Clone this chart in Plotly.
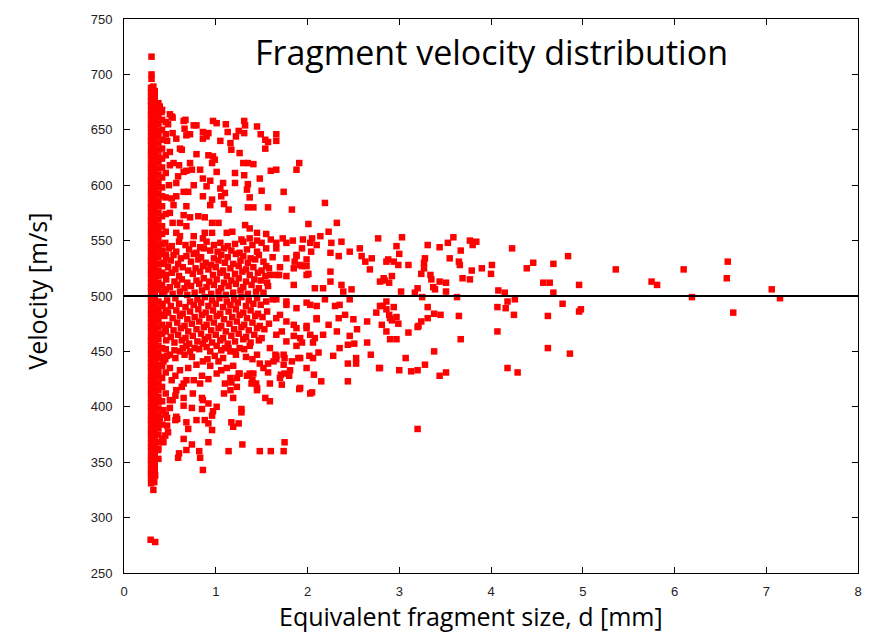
import plotly.graph_objects as go

# ---------------- data ----------------
# dense core of very small fragments (d ~ 0.3-0.45 mm): one list of velocities per size column
core_d = [0.295, 0.335, 0.375, 0.415, 0.455]
core_v = [
    [331, 336, 340, 343, 348, 352, 355, 360, 364, 367, 372, 376, 379, 384, 388, 391, 396, 400,
     403, 408, 412, 415, 420, 424, 427, 432, 436, 439, 444, 448, 451, 456, 460, 463, 468, 472,
     475, 480, 484, 487, 492, 496, 499, 504, 508, 511, 516, 520, 523, 528, 532, 535, 540, 544,
     547, 552, 556, 559, 564, 568, 571, 576, 580, 583, 588, 592, 595, 600, 604, 607, 612, 616,
     619, 624, 628, 631, 636, 640, 643, 648, 652, 655, 660, 664, 667, 672, 676, 679, 684, 688],
    [338, 343, 347, 352, 357, 361, 366, 370, 375, 379, 384, 388, 393, 397, 402, 406, 411, 415,
     420, 424, 429, 433, 438, 442, 447, 451, 456, 460, 465, 469, 474, 478, 483, 487, 492, 496,
     501, 505, 510, 514, 519, 523, 528, 532, 537, 541, 546, 550, 555, 559, 564, 568, 573, 577,
     582, 586, 591, 595, 600, 604, 609, 613, 618, 622, 627, 631, 636, 640, 645, 649, 654, 658,
     663, 667, 672, 676, 681, 685],
    [353, 362, 368, 375, 381, 386, 392, 398, 404, 409, 415, 421, 427, 432, 438, 444, 449, 455,
     461, 466, 472, 478, 484, 489, 495, 506, 512, 518, 523, 529, 535, 541, 546, 552, 558, 563,
     569, 575, 581, 586, 592, 598, 603, 609, 615, 621, 626, 632, 638, 644, 649, 655, 661, 667, 674],
    [371, 384, 396, 405, 418, 426, 437, 445, 453, 466, 474, 483, 491, 502, 510, 521, 529, 538,
     547, 556, 563, 572, 581, 590, 598, 607, 616, 624, 633, 641, 650, 659, 668],
    [393, 412, 431, 452, 468, 487, 506, 519, 537, 558, 574, 589, 611, 627, 646, 657],
]

# crowded band around the mean velocity (d ~ 0.4-1.6 mm): rows of sizes and their velocities
band_d = [
    [0.45, 0.52, 0.60, 0.67, 0.75, 0.83, 0.90, 0.98, 1.05, 1.13, 1.21, 1.30, 1.40, 1.50],
    [0.42, 0.49, 0.57, 0.71, 0.79, 0.87, 0.94, 1.02, 1.09, 1.17, 1.26, 1.34, 1.45, 1.55],
    [0.46, 0.54, 0.62, 0.68, 0.76, 0.84, 0.98, 1.06, 1.13, 1.22, 1.30, 1.38, 1.47, 1.62],
    [0.44, 0.51, 0.59, 0.73, 0.81, 0.89, 0.95, 1.03, 1.10, 1.19, 1.27, 1.35, 1.43, 1.52],
    [0.48, 0.56, 0.64, 0.70, 0.78, 0.86, 0.92, 1.00, 1.08, 1.16, 1.25, 1.33, 1.41, 1.50, 1.58],
    [0.43, 0.52, 0.60, 0.75, 0.83, 0.97, 1.05, 1.12, 1.21, 1.29, 1.37, 1.46, 1.54],
    [0.46, 0.55, 0.63, 0.69, 0.79, 0.87, 0.93, 1.01, 1.09, 1.17, 1.25, 1.33, 1.42, 1.49],
    [0.50, 0.58, 0.66, 0.73, 0.82, 0.90, 0.98, 1.06, 1.14, 1.22, 1.30, 1.39, 1.47, 1.57],
    [0.44, 0.53, 0.61, 0.69, 0.77, 0.85, 0.95, 1.03, 1.11, 1.19, 1.27, 1.35, 1.44, 1.52],
    [0.47, 0.56, 0.72, 0.80, 0.88, 0.96, 1.04, 1.12, 1.20, 1.28, 1.36, 1.45, 1.55, 1.62],
    [0.42, 0.51, 0.60, 0.67, 0.76, 0.84, 0.92, 1.00, 1.08, 1.16, 1.24, 1.33, 1.41, 1.49],
    [0.48, 0.57, 0.64, 0.72, 0.81, 0.89, 0.97, 1.05, 1.14, 1.22, 1.30, 1.38, 1.46, 1.56],
    [0.44, 0.53, 0.61, 0.69, 0.77, 0.85, 0.93, 1.01, 1.09, 1.18, 1.26, 1.34, 1.43, 1.51],
    [0.49, 0.58, 0.66, 0.74, 0.82, 0.90, 0.98, 1.06, 1.15, 1.23, 1.31, 1.40, 1.48, 1.58],
    [0.45, 0.54, 0.62, 0.70, 0.79, 0.87, 0.95, 1.03, 1.11, 1.20, 1.28, 1.36, 1.45, 1.53],
    [0.51, 0.59, 0.67, 0.75, 0.84, 0.92, 1.00, 1.08, 1.17, 1.25, 1.33, 1.42, 1.50],
    [0.46, 0.55, 0.63, 0.71, 0.80, 0.88, 0.96, 1.05, 1.13, 1.21, 1.30, 1.38, 1.47],
    [0.55, 0.64, 0.72, 0.82, 0.90, 1.06, 1.14, 1.21, 1.31],
    [0.47, 0.56, 0.66, 0.74, 0.91, 0.99, 1.08, 1.22, 1.33, 1.40],
]
band_v = [
    [548, 545, 549, 546, 547, 544, 549, 546, 548, 545, 547, 549, 546, 548],
    [541, 543, 540, 542, 539, 543, 541, 540, 543, 541, 539, 542, 540, 543],
    [535, 537, 534, 536, 538, 535, 534, 537, 535, 538, 536, 534, 537, 535],
    [530, 532, 529, 531, 533, 530, 528, 532, 530, 529, 532, 530, 533, 531],
    [526, 524, 526, 523, 525, 527, 524, 526, 523, 525, 527, 524, 526, 523, 525],
    [519, 521, 518, 520, 522, 519, 521, 518, 520, 522, 519, 521, 518],
    [515, 513, 515, 512, 514, 516, 513, 515, 512, 514, 516, 513, 515, 514],
    [508, 510, 507, 509, 511, 508, 510, 507, 509, 511, 508, 510, 507, 509],
    [504, 502, 504, 501, 503, 505, 502, 504, 501, 503, 505, 502, 504, 503],
    [496, 498, 495, 497, 499, 496, 498, 495, 497, 499, 496, 498, 495, 497],
    [493, 491, 493, 490, 492, 494, 491, 493, 490, 492, 494, 491, 493, 492],
    [485, 487, 484, 486, 488, 485, 487, 484, 486, 488, 485, 487, 484, 486],
    [482, 480, 482, 479, 481, 483, 480, 482, 479, 481, 483, 480, 482, 481],
    [474, 476, 473, 475, 477, 474, 476, 473, 475, 477, 474, 476, 473, 475],
    [471, 469, 471, 468, 470, 472, 469, 471, 468, 470, 472, 469, 471, 470],
    [463, 465, 462, 464, 466, 463, 465, 462, 464, 466, 463, 465, 462],
    [460, 458, 460, 457, 459, 461, 458, 460, 457, 459, 461, 458, 460],
    [451, 453, 450, 452, 454, 451, 453, 450, 452],
    [446, 444, 447, 445, 443, 446, 444, 447, 445, 443],
]

# isolated fragments above the band: (size d [mm], velocity [m/s])
upper_pts = [
    (0.30, 716), (0.30, 700), (0.30, 696), (0.32, 689), (0.39, 671), (0.41, 666), (0.50, 664),
    (0.52, 662), (0.53, 661), (0.65, 658), (0.67, 659), (0.76, 654), (0.79, 654), (0.97, 658),
    (1.01, 656), (1.11, 655), (1.31, 658), (1.32, 654), (1.45, 653), (1.66, 646), (1.66, 640),
    (1.49, 646), (1.54, 641), (1.57, 639), (1.54, 633), (0.66, 651), (0.68, 645), (0.72, 646),
    (0.86, 648), (0.86, 642), (0.90, 644), (0.92, 647), (1.05, 640), (1.13, 648), (1.16, 638),
    (1.22, 644), (1.25, 649), (1.31, 647), (1.17, 632), (1.26, 629), (0.53, 647), (0.57, 642),
    (0.61, 633), (0.63, 632), (0.79, 628), (0.92, 627), (0.97, 626), (0.99, 623), (0.96, 620),
    (0.50, 618), (0.54, 620), (0.60, 618), (0.72, 620), (0.65, 612), (0.68, 613), (0.74, 614),
    (0.83, 614), (0.59, 608), (0.57, 602), (1.01, 612), (1.30, 620), (1.35, 620), (1.41, 619),
    (1.21, 611), (1.31, 609), (1.48, 606), (1.60, 613), (1.66, 614), (1.88, 614), (1.91, 620),
    (0.86, 606), (0.94, 604), (0.90, 599), (0.76, 600), (0.70, 594), (0.65, 594), (1.08, 602),
    (1.05, 597), (1.10, 593), (1.21, 602), (1.35, 601), (1.34, 596), (1.50, 595), (1.74, 594),
    (1.37, 589), (0.86, 590), (0.96, 587), (0.94, 582), (1.06, 590), (1.09, 583), (1.14, 578),
    (0.57, 590), (0.54, 582), (0.68, 581), (1.35, 580), (1.41, 580), (1.57, 580), (1.83, 578),
    (2.19, 584), (0.65, 573), (0.72, 571), (0.81, 572), (0.88, 571), (0.68, 563), (0.61, 566),
    (0.96, 566), (1.03, 566), (0.96, 557), (0.88, 557), (1.12, 557), (1.18, 558), (1.32, 564),
    (1.37, 561), (1.45, 557), (1.55, 556), (2.01, 565), (2.32, 566), (2.23, 558), (2.14, 554),
    (2.77, 552), (0.57, 557), (0.61, 554), (0.76, 554), (0.86, 552), (1.28, 551), (1.37, 552),
    (1.45, 550), (1.60, 551), (1.73, 552), (1.84, 550), (1.95, 551), (2.05, 552), (0.48, 655),
    (0.47, 640), (0.50, 630), (0.49, 600), (0.52, 588), (0.50, 575), (0.53, 566),
]

# fragments on the right side of the band (d ~ 1.5-2.9 mm)
side_pts = [
    (1.66, 548), (1.77, 548), (1.94, 543), (2.03, 548), (2.26, 548), (2.37, 549), (2.25, 539),
    (2.34, 536), (2.46, 540), (2.57, 543), (2.59, 536), (2.63, 531), (2.68, 524), (2.70, 534),
    (1.88, 536), (1.86, 531), (1.92, 528), (1.99, 527), (2.01, 520), (2.25, 522), (2.25, 513),
    (2.37, 510), (2.48, 506), (2.39, 504), (2.17, 507), (2.08, 507), (1.85, 510), (1.77, 518),
    (1.66, 519), (1.70, 526), (1.56, 512), (1.59, 519), (2.86, 531), (2.83, 516), (2.79, 513),
    (1.66, 543), (1.77, 534), (1.88, 537), (1.99, 533), (1.85, 525), (1.94, 527), (1.99, 519),
    (1.69, 519), (1.55, 527), (2.10, 546), (2.04, 540),
    (1.66, 497), (1.77, 492), (1.88, 489), (1.99, 494), (2.10, 491), (2.19, 497), (2.30, 491),
    (2.35, 492), (2.46, 497), (2.41, 483), (2.50, 479), (2.65, 477), (2.75, 485), (2.81, 474),
    (2.54, 470), (2.34, 480), (2.23, 474), (2.10, 479), (1.99, 473), (1.88, 471), (1.77, 477),
    (1.66, 480), (1.72, 468), (1.85, 464), (2.03, 465), (2.17, 465), (2.32, 468), (2.46, 464),
    (2.79, 491), (2.90, 480), (1.77, 495), (2.03, 492), (2.10, 480), (1.70, 483), (1.85, 474),
    (1.99, 471), (2.08, 462), (1.92, 462), (1.77, 459), (1.66, 465),
]

# fragments below the band
lower_pts = [
    (1.28, 398), (1.28, 395), (1.17, 386), (1.25, 385), (1.19, 382), (1.54, 408), (1.59, 405),
    (1.75, 368), (1.74, 360), (1.48, 360), (1.60, 360), (1.14, 360), (1.29, 366), (0.92, 368),
    (0.82, 360), (0.83, 354), (0.86, 343), (0.74, 366), (0.65, 371), (0.68, 361), (0.60, 358),
    (0.59, 354), (0.96, 379), (0.92, 385), (0.88, 388), (0.96, 392), (0.97, 396), (1.01, 400),
    (0.79, 388), (0.70, 380), (0.68, 386), (0.56, 388), (0.47, 390), (0.57, 391), (0.65, 401),
    (0.74, 399), (0.85, 398), (0.86, 406), (0.92, 403), (0.50, 406), (0.56, 410), (0.65, 408),
    (0.75, 412), (0.85, 408), (1.19, 408), (1.16, 415), (1.09, 412), (1.23, 418), (1.45, 415),
    (1.44, 421), (1.40, 424), (1.37, 430), (1.57, 431), (1.72, 420), (1.71, 429), (1.75, 430),
    (1.80, 428), (1.91, 416), (2.03, 412), (2.07, 429), (2.15, 423), (2.44, 423), (2.44, 439),
    (2.53, 444), (2.53, 439), (2.69, 447), (2.78, 435), (2.28, 446), (2.35, 453), (2.44, 456),
    (2.51, 457), (2.65, 458), (1.90, 444), (2.02, 446), (2.12, 449), (1.83, 441), (1.74, 438),
    (1.75, 444), (1.66, 446), (1.25, 430), (1.34, 428), (1.39, 421), (1.10, 421), (1.17, 422),
    (1.16, 426), (1.23, 426), (1.01, 430), (1.06, 433), (1.12, 435), (1.19, 437), (1.26, 430),
    (0.85, 428), (0.92, 425), (0.83, 421), (0.76, 424), (0.68, 424), (0.65, 421), (0.63, 418),
    (0.57, 415), (0.56, 428), (0.52, 424), (0.61, 433), (0.70, 435), (0.79, 438), (0.86, 441),
    (0.94, 437), (1.03, 441), (1.16, 450), (1.26, 453), (1.37, 455), (1.45, 447), (1.48, 439),
    (1.57, 439), (1.65, 447), (1.66, 443), (1.88, 455), (1.94, 458), (2.06, 458), (0.43, 441),
    (0.50, 435), (0.50, 447), (0.61, 450), (0.68, 455), (0.77, 453), (0.86, 457), (0.94, 450),
    (1.01, 455), (1.10, 453), (0.45, 374), (0.43, 368), (0.37, 361), (0.47, 383), (0.39, 390),
    (0.43, 397), (0.50, 399), (0.45, 443), (0.53, 406), (0.58, 389), (0.48, 377), (1.59, 453),
    (1.74, 447), (1.92, 444), (2.06, 444), (1.99, 435), (1.81, 433), (1.63, 441), (1.52, 435),
    (1.70, 426), (1.59, 421), (1.92, 417), (2.05, 413), (1.41, 430), (1.45, 417),
    (0.30, 340), (0.34, 338), (0.33, 332), (0.32, 325), (0.29, 280), (0.34, 278),
]

# large, rare fragments (d > 2.8 mm)
tail_pts = [
    (3.03, 553), (2.97, 545), (3.00, 538), (2.88, 533), (2.94, 531), (2.99, 528), (3.10, 528),
    (2.92, 518), (2.84, 514), (2.89, 512), (3.02, 504), (3.17, 503), (3.20, 507), (3.25, 499),
    (3.31, 546), (3.44, 544), (3.53, 548), (3.59, 553), (3.67, 541), (3.77, 550), (3.80, 546),
    (3.84, 549), (3.28, 534), (3.27, 530), (3.27, 525), (3.24, 520), (3.34, 519), (3.35, 515),
    (3.55, 534), (3.65, 531), (3.66, 528), (3.79, 523), (3.90, 525), (4.01, 528), (4.00, 520),
    (4.23, 543), (3.69, 516), (3.77, 515), (3.44, 513), (3.51, 512), (3.37, 508), (3.39, 506),
    (3.51, 504), (3.63, 499), (4.08, 505), (4.15, 503), (4.39, 525), (4.46, 530), (4.68, 529),
    (4.84, 536), (4.57, 512), (4.64, 512), (4.96, 510), (4.68, 503), (4.78, 493), (4.96, 486),
    (4.98, 488), (4.62, 482), (4.62, 453), (4.86, 448), (4.18, 495), (4.26, 497), (4.07, 490),
    (4.16, 489), (4.25, 483), (4.07, 468), (4.18, 435), (4.29, 431), (3.65, 482), (3.67, 461),
    (3.38, 484), (3.45, 483), (3.31, 490), (3.31, 480), (3.24, 477), (3.21, 473), (3.20, 472),
    (3.10, 467), (3.38, 450), (3.07, 444), (3.00, 433), (3.13, 432), (3.20, 433), (3.28, 438),
    (3.44, 428), (3.51, 431), (2.86, 495), (2.82, 491), (2.86, 488), (2.94, 490), (2.89, 483),
    (2.92, 478), (2.97, 481), (2.99, 475), (2.86, 468), (2.90, 461), (2.97, 461), (2.79, 435),
    (3.20, 380), (5.36, 524), (5.75, 513), (5.81, 510), (6.10, 524), (6.19, 499), (6.58, 531),
    (6.57, 516), (6.64, 485), (7.06, 506), (7.15, 498),
]

mean_velocity = 500
x_ticks = [0, 1, 2, 3, 4, 5, 6, 7, 8]
y_ticks = [250, 300, 350, 400, 450, 500, 550, 600, 650, 700, 750]

# ---------------- assemble ----------------
xs, ys = [], []
for d, vals in zip(core_d, core_v):
    xs += [d] * len(vals)
    ys += vals
for ds, vs in zip(band_d, band_v):
    xs += ds
    ys += vs
for group in (upper_pts, side_pts, lower_pts, tail_pts):
    xs += [p[0] for p in group]
    ys += [p[1] for p in group]

fig = go.Figure()
fig.add_trace(go.Scatter(
    x=xs, y=ys, mode="markers",
    marker=dict(symbol="square", size=6.5, color="#ff0000", line=dict(width=0)),
    showlegend=False, hoverinfo="skip",
))

fig.add_shape(type="line", xref="x", yref="y", x0=x_ticks[0], x1=x_ticks[-1],
              y0=mean_velocity, y1=mean_velocity, line=dict(color="black", width=2))

tick_font = dict(family="Liberation Sans Narrow, Liberation Sans, Arial, sans-serif", size=13, color="#222222")
axis_common = dict(showline=True, linecolor="black", linewidth=1, mirror="ticks",
                   ticks="inside", ticklen=6, tickcolor="black", tickwidth=1,
                   showgrid=False, zeroline=False, tickfont=tick_font)

fig.update_xaxes(range=[x_ticks[0], x_ticks[-1]], tickvals=x_ticks, ticklabelstandoff=6, **axis_common)
fig.update_yaxes(range=[y_ticks[0], y_ticks[-1]], tickvals=y_ticks, ticklabelstandoff=8, **axis_common)

title_font = "Open Sans, Noto Sans, sans-serif"
fig.add_annotation(text="Fragment velocity distribution", xref="paper", yref="paper",
                   x=0.5, y=0.94, xanchor="center", yanchor="middle", showarrow=False,
                   font=dict(family=title_font, size=34, color="black"))
fig.add_annotation(text="Equivalent fragment size, d [mm]", xref="paper", yref="paper",
                   x=0.473, y=-0.078, xanchor="center", yanchor="middle", showarrow=False,
                   font=dict(family=title_font, size=25, color="black"))
fig.add_annotation(text="Velocity [m/s]", xref="paper", yref="paper",
                   x=-0.119, y=0.509, xanchor="center", yanchor="middle", showarrow=False,
                   textangle=-90, font=dict(family=title_font, size=25, color="black"))

fig.update_layout(width=884, height=632, margin=dict(l=124, r=26, t=17, b=59),
                  plot_bgcolor="white", paper_bgcolor="white")

fig.write_html("out.html")
